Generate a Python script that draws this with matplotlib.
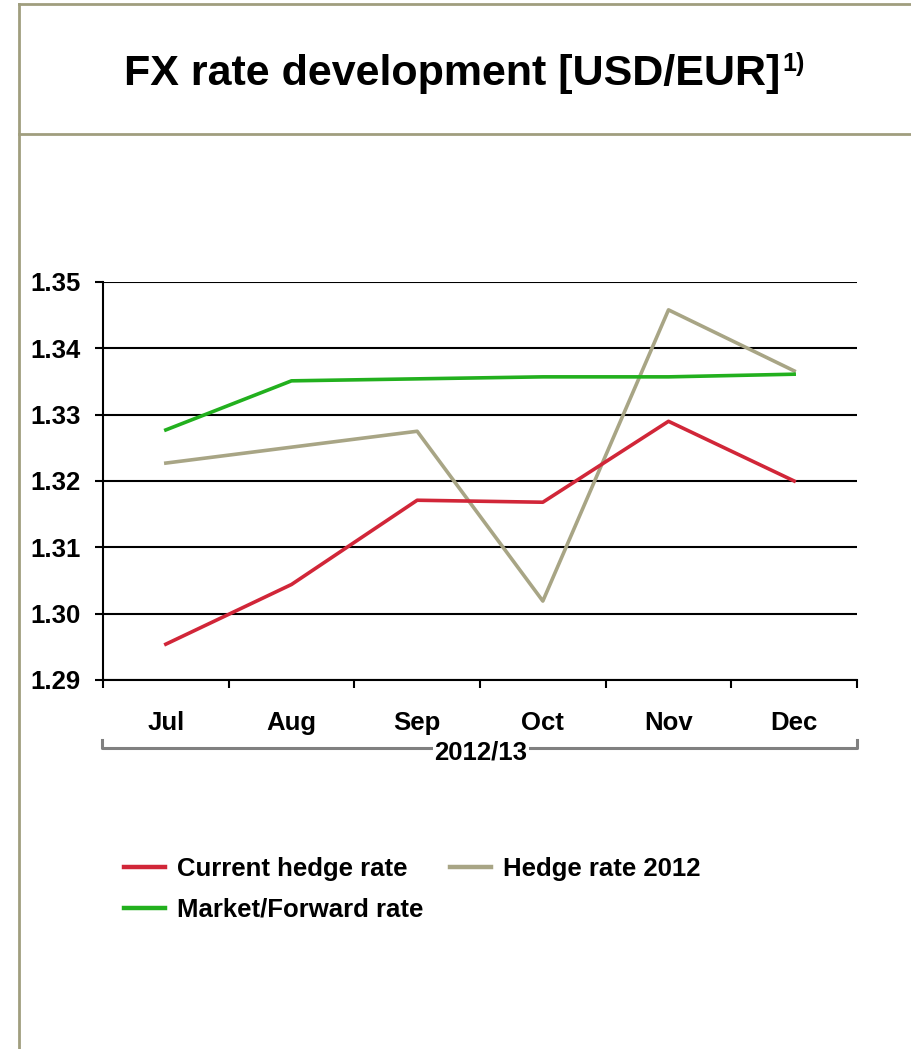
import matplotlib
matplotlib.use("Agg")
import matplotlib.pyplot as plt
from matplotlib.lines import Line2D

plt.rcParams['font.family'] = ['Liberation Sans', 'DejaVu Sans']
plt.rcParams['font.weight'] = 'bold'

# data
months = ['Jul', 'Aug', 'Sep', 'Oct', 'Nov', 'Dec']
current_hedge = [1.2954, 1.3044, 1.3171, 1.3168, 1.3290, 1.3200]
hedge_2012 = [1.3227, 1.3251, 1.3275, 1.3019, 1.3458, 1.3366]
market_fwd = [1.3277, 1.3351, 1.3354, 1.3357, 1.3357, 1.3361]
yticks = [1.29, 1.30, 1.31, 1.32, 1.33, 1.34, 1.35]
period = '2012/13'

red = '#D12638'
tan = '#A8A585'
green = '#22B01E'
frame = '#A09E7E'

W, H = 911, 1049
fig = plt.figure(figsize=(W / 100, H / 100), dpi=100)
ax = fig.add_axes([103 / W, 1 - 680 / H, (857 - 103) / W, (680 - 282) / H])

x = list(range(len(months)))
l1, = ax.plot(x, current_hedge, color=red, lw=2.6, label='Current hedge rate', zorder=4)
l2, = ax.plot(x, hedge_2012, color=tan, lw=2.6, label='Hedge rate 2012', zorder=3)
l3, = ax.plot(x, market_fwd, color=green, lw=2.6, label='Market/Forward rate', zorder=3)

ax.set_xlim(-0.5, len(months) - 0.5)
ax.set_ylim(yticks[0], yticks[-1])
ax.set_yticks(yticks)
ax.set_yticklabels(['%.2f' % v for v in yticks])
ax.yaxis.grid(True, color='black', lw=1.5)
ax.set_axisbelow(True)

ax.set_xticks(x)
ax.set_xticklabels(months)
ax.set_xticks([i - 0.5 for i in range(len(months) + 1)], minor=True)
ax.tick_params(axis='x', which='major', length=0, pad=22, labelsize=18.5)
ax.tick_params(axis='x', which='minor', length=6, width=1.5, direction='out')
ax.tick_params(axis='y', length=6, width=1.5, direction='out', pad=10, labelsize=18.5)

for s in ['top', 'right']:
    ax.spines[s].set_visible(False)
for s in ['left', 'bottom']:
    ax.spines[s].set_linewidth(1.5)

# bracket with period label
by = 1 - 748 / H
bt = 1 - 740 / H
xl, xr = 102 / W, 857 / W
fig.add_artist(Line2D([xl, xl, xr, xr], [bt, by, by, bt], color='#808080', lw=2.2))
fig.text(481 / W, 1 - 753 / H, period, ha='center', va='center', fontsize=18.5,
         fontweight='bold', bbox=dict(facecolor='white', edgecolor='none', pad=1))

# title and frame
fig.text(780 / W, 1 - 74 / H, 'FX rate development [USD/EUR]',
         ha='right', va='center', fontsize=31, fontweight='bold')
fig.text(782 / W, 1 - 64 / H, '1)', ha='left', va='center', fontsize=18, fontweight='bold')
fig.add_artist(Line2D([19 / W, 19 / W], [0, 1 - 4 / H], color=frame, lw=2))
fig.add_artist(Line2D([19 / W, 1], [1 - 4 / H, 1 - 4 / H], color=frame, lw=2))
fig.add_artist(Line2D([19 / W, 1], [1 - 134 / H, 1 - 134 / H], color=frame, lw=2))

# legend: row 1 current / hedge 2012, row 2 market
leg = fig.legend([l1, l3, l2], ['Current hedge rate', 'Market/Forward rate', 'Hedge rate 2012'],
                 loc='upper left', bbox_to_anchor=(114 / W, 1 - 847 / H), ncol=2,
                 frameon=False, fontsize=18.5, handlelength=1.6, handletextpad=0.45,
                 columnspacing=1.05, labelspacing=0.65, borderaxespad=0)
for h in leg.legend_handles:
    h.set_linewidth(3.2)

fig.savefig('out.png', dpi=100)
